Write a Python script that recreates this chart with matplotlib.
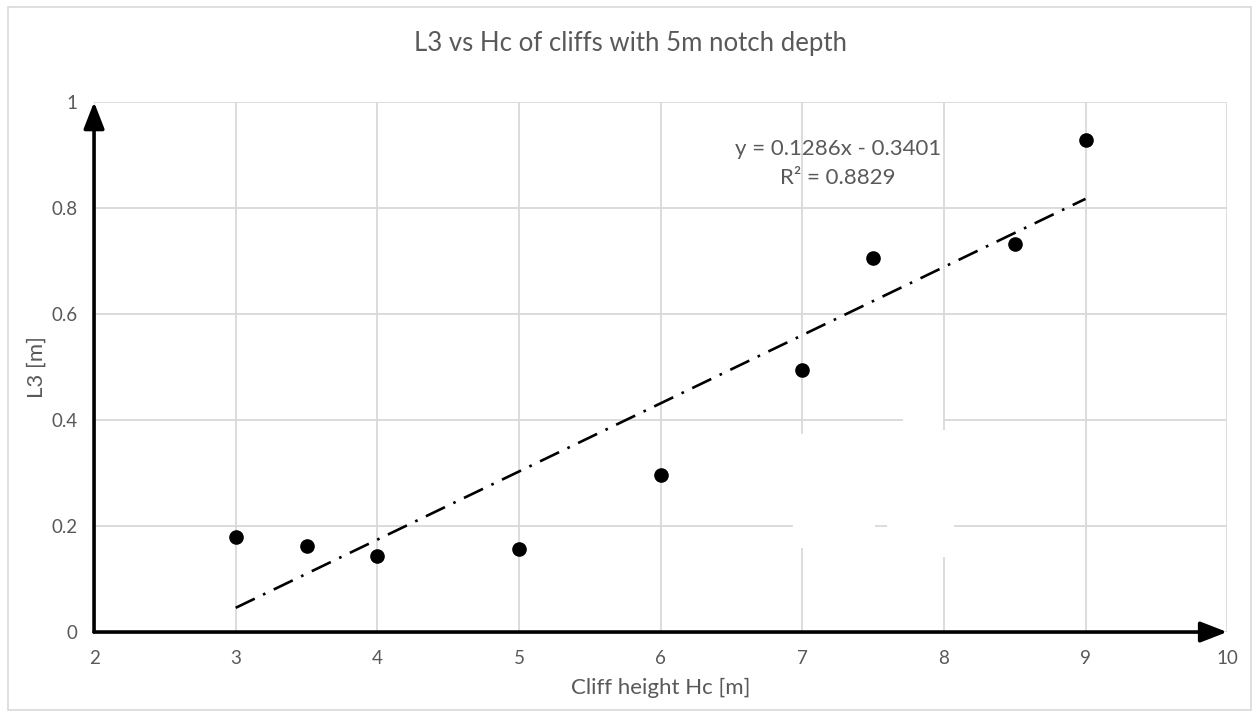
import matplotlib.pyplot as plt
from matplotlib.patches import Rectangle

# cliff height Hc [m] and measured L3 [m]
cliff_height = [3, 3.5, 4, 5, 6, 7, 7.5, 8.5, 9]
l3 = [0.180, 0.163, 0.144, 0.157, 0.297, 0.495, 0.705, 0.733, 0.928]

# linear trendline as reported
slope = 0.1286
intercept = -0.3401
r_squared = 0.8829

x_ticks = [2, 3, 4, 5, 6, 7, 8, 9, 10]
y_ticks = [0, 0.2, 0.4, 0.6, 0.8, 1]
y_tick_labels = ["0", "0.2", "0.4", "0.6", "0.8", "1"]

TEXT = "#595959"
GRID = "#d9d9d9"

plt.rcParams["font.family"] = ["Lato", "DejaVu Sans"]

fig = plt.figure(figsize=(12.59, 7.17), dpi=100)
ax = fig.add_axes([0.0747, 0.1185, 0.9, 0.7392])
ax.set_xlim(2, 10)
ax.set_ylim(0, 1)

ax.set_xticks(x_ticks)
ax.set_yticks(y_ticks)
ax.set_yticklabels(y_tick_labels)
ax.tick_params(length=0, labelsize=13.5, labelcolor=TEXT)
ax.tick_params(axis="x", pad=13)
ax.tick_params(axis="y", pad=12)
ax.grid(True, color=GRID, linewidth=1.3)
ax.set_axisbelow(True)
for s in ax.spines.values():
    s.set_visible(False)

# blank patch over the gridlines in the lower right
for (x0, x1, y0, y1) in [(6.936, 7.516, 0.159, 0.374),
                         (7.600, 8.073, 0.142, 0.382),
                         (7.713, 7.995, 0.370, 0.415)]:
    ax.add_patch(Rectangle((x0, y0), x1 - x0, y1 - y0, facecolor="white",
                           edgecolor="none", zorder=1))

# axes drawn as arrows
arrow = dict(arrowstyle="-|>,head_length=0.9,head_width=0.35", color="black",
             lw=2.6, shrinkA=0, shrinkB=0, mutation_scale=18)
ax.annotate("", xy=(10, 0), xytext=(2, 0), arrowprops=arrow,
            annotation_clip=False, zorder=4)
ax.annotate("", xy=(2, 1), xytext=(2, 0), arrowprops=arrow,
            annotation_clip=False, zorder=4)

ax.plot(cliff_height, l3, "o", color="black", markersize=9.5, zorder=5)

x_fit = [min(cliff_height), max(cliff_height)]
y_fit = [slope * x + intercept for x in x_fit]
ax.plot(x_fit, y_fit, color="black", lw=1.9, dashes=(8, 3.5, 1, 3.5), zorder=3)

ax.text(7.25, 0.884, f"y = {slope}x - {abs(intercept)}\nR² = {r_squared}",
        ha="center", va="center", fontsize=16, color=TEXT, linespacing=1.6)

ax.set_xlabel("Cliff height Hc [m]", fontsize=16, color=TEXT, labelpad=8)
ax.set_ylabel("L3 [m]", fontsize=16, color=TEXT, labelpad=3)
fig.text(0.501, 0.939, "L3 vs Hc of cliffs with 5m notch depth",
         ha="center", va="center", fontsize=18.5, color=TEXT)

# chart area border
fig.add_artist(Rectangle((8 / 1259, 7 / 717), 1243 / 1259, 703 / 717,
                         transform=fig.transFigure, fill=False,
                         edgecolor=GRID, lw=1.2))

fig.savefig("out.png", dpi=100)
